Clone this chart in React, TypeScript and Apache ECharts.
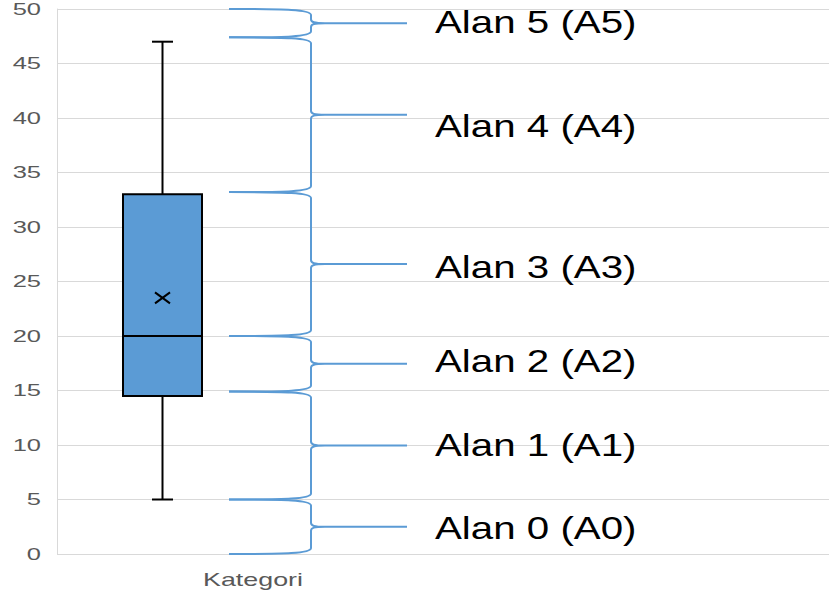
import React, { useEffect, useRef } from "react";
import * as echarts from "echarts";

// ---------- data ----------
const categories = ["Kategori"];
const boxMin = [5];
const boxQ1 = [14.5];
const boxMedian = [20];
const boxQ3 = [33];
const boxMax = [47];
const boxMean = [23.5];

const yTicks = [0, 5, 10, 15, 20, 25, 30, 35, 40, 45, 50];

const zoneNames = ["Alan 0 (A0)", "Alan 1 (A1)", "Alan 2 (A2)", "Alan 3 (A3)", "Alan 4 (A4)", "Alan 5 (A5)"];
const zoneLower = [0, 5, 14.9, 20, 33.2, 47.4];
const zoneUpper = [5, 14.9, 20, 33.2, 47.4, 50];
const zoneLabelY = [2.4, 10, 17.7, 26.3, 39.2, 48.8];

// ---------- layout (pixels, relative to plot-area left edge) ----------
const BOX_CX = 105.5;
const BOX_HALF = 39.5;
const CAP_HALF = 10.5;
const BRACE_L = 172;
const BRACE_S = 254;
const BRACE_T = 350;
const LABEL_X = 378;
const CAT_LABEL_X = 196;

const BLUE = "#5b9bd5";
const AXIS_TEXT = "#595959";

export default function App() {
  const ref = useRef<HTMLDivElement>(null);

  useEffect(() => {
    document.body.style.margin = "0";
    const chart = echarts.init(ref.current!, undefined, { renderer: "svg" });

    const boxData = categories.map((c, i) => [i, boxMin[i], boxQ1[i], boxMedian[i], boxQ3[i], boxMax[i], boxMean[i]]);
    const braceData = zoneLower.map((lo, i) => [lo, zoneUpper[i]]);
    const labelData = zoneLabelY.map((y) => [0, y]);
    const tickData = yTicks.map((v) => [0, v]);

    const option: any = {
      animation: false,
      backgroundColor: "#ffffff",
      grid: { left: 57, right: 0, top: 9, bottom: 47 },
      xAxis: { type: "value", min: 0, max: 1, show: false },
      yAxis: {
        type: "value",
        min: 0,
        max: 50,
        interval: 5,
        axisLine: { show: true, lineStyle: { color: "#d9d9d9", width: 1 } },
        axisTick: { show: false },
        axisLabel: { show: false },
        splitLine: { show: true, lineStyle: { color: "#d9d9d9", width: 1 } },
      },
      series: [
        // y-axis tick labels
        {
          type: "custom",
          silent: true,
          clip: false,
          data: tickData,
          encode: { x: 0, y: 1 },
          renderItem: (params: any, api: any) => {
            const p = api.coord([0, api.value(1)]);
            return {
              type: "text",
              x: p[0] - 16,
              y: p[1],
              scaleX: 1.5,
              style: {
                text: String(yTicks[params.dataIndex]),
                fill: AXIS_TEXT,
                fontSize: 17,
                fontFamily: "Liberation Sans",
                align: "right",
                verticalAlign: "middle",
              },
            };
          },
        },
        // braces
        {
          type: "custom",
          silent: true,
          clip: false,
          data: braceData,
          encode: { y: [0, 1] },
          renderItem: (params: any, api: any) => {
            const lo = api.value(0);
            const hi = api.value(1);
            const x0 = api.coord([0, 0])[0];
            const yb = api.coord([0, lo])[1];
            const yt = api.coord([0, hi])[1];
            const ym = (yb + yt) / 2;
            const xL = x0 + BRACE_L;
            const xS = x0 + BRACE_S;
            const xT = x0 + BRACE_T;
            const r = 6;
            const r2 = 4;
            const d =
              `M${xL} ${yb} C${xS - 25} ${yb} ${xS} ${yb - 0.5} ${xS} ${yb - r} ` +
              `L${xS} ${ym + r2} C${xS} ${ym + 1} ${xS + 3} ${ym} ${xS + 14} ${ym} L${xT} ${ym} ` +
              `M${xS + 14} ${ym} C${xS + 3} ${ym} ${xS} ${ym - 1} ${xS} ${ym - r2} ` +
              `L${xS} ${yt + r} C${xS} ${yt + 0.5} ${xS - 25} ${yt} ${xL} ${yt}`;
            return {
              type: "path",
              shape: { pathData: d },
              style: { fill: "none", stroke: BLUE, lineWidth: 2 },
            };
          },
        },
        // zone labels
        {
          type: "custom",
          silent: true,
          clip: false,
          data: labelData,
          encode: { x: 0, y: 1 },
          renderItem: (params: any, api: any) => {
            const x0 = api.coord([0, 0])[0];
            const p = api.coord([0, api.value(1)]);
            return {
              type: "text",
              x: x0 + LABEL_X,
              y: p[1],
              scaleX: 1.3,
              style: {
                text: zoneNames[params.dataIndex],
                fill: "#000000",
                fontSize: 31,
                fontFamily: "Liberation Sans",
                align: "left",
                verticalAlign: "middle",
              },
            };
          },
        },
        // box plot
        {
          type: "custom",
          silent: true,
          clip: false,
          data: boxData,
          encode: { y: [1, 2, 3, 4, 5, 6] },
          renderItem: (params: any, api: any) => {
            const x0 = api.coord([0, 0])[0];
            const cx = x0 + BOX_CX;
            const y = (v: number) => api.coord([0, v])[1];
            const yMin = y(api.value(1));
            const yQ1 = y(api.value(2));
            const yMed = y(api.value(3));
            const yQ3 = y(api.value(4));
            const yMax = y(api.value(5));
            const yMean = y(api.value(6));
            const base = api.coord([0, 0])[1];
            const lineStyle = { stroke: "#000000", lineWidth: 2 };
            return {
              type: "group",
              children: [
                { type: "line", shape: { x1: cx, y1: yMax, x2: cx, y2: yQ3 }, style: lineStyle },
                { type: "line", shape: { x1: cx, y1: yQ1, x2: cx, y2: yMin }, style: lineStyle },
                { type: "line", shape: { x1: cx - CAP_HALF, y1: yMax, x2: cx + CAP_HALF, y2: yMax }, style: lineStyle },
                { type: "line", shape: { x1: cx - CAP_HALF, y1: yMin, x2: cx + CAP_HALF, y2: yMin }, style: lineStyle },
                {
                  type: "rect",
                  shape: { x: cx - BOX_HALF, y: yQ3, width: BOX_HALF * 2, height: yQ1 - yQ3 },
                  style: { fill: BLUE, stroke: "#000000", lineWidth: 2 },
                },
                { type: "line", shape: { x1: cx - BOX_HALF, y1: yMed, x2: cx + BOX_HALF, y2: yMed }, style: lineStyle },
                { type: "line", shape: { x1: cx - 7.5, y1: yMean - 5.5, x2: cx + 7.5, y2: yMean + 5.5 }, style: lineStyle },
                { type: "line", shape: { x1: cx - 7.5, y1: yMean + 5.5, x2: cx + 7.5, y2: yMean - 5.5 }, style: lineStyle },
                {
                  type: "text",
                  x: x0 + CAT_LABEL_X,
                  y: base + 26,
                  scaleX: 1.49,
                  style: {
                    text: categories[params.dataIndex],
                    fill: AXIS_TEXT,
                    fontSize: 18,
                    fontFamily: "Liberation Sans",
                    align: "center",
                    verticalAlign: "middle",
                  },
                },
              ],
            };
          },
        },
      ],
    };

    chart.setOption(option);
    return () => chart.dispose();
  }, []);

  return (
    <div
      ref={ref}
      style={{ position: "fixed", left: 0, top: 0, width: 829, height: 601, background: "#fff" }}
    />
  );
}
